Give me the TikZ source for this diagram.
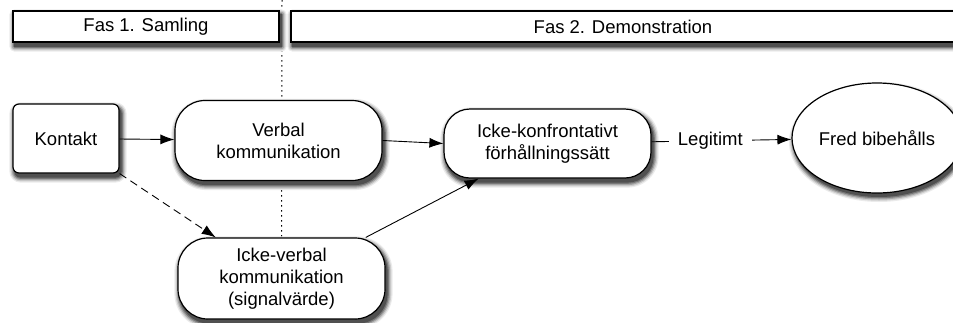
\documentclass[tikz,border=0pt]{standalone}
\usepackage{fontspec}
\setmainfont{Liberation Sans}
\usepackage{tikz}
\usetikzlibrary{positioning, arrows.meta, shapes.geometric, backgrounds, calc}
\tikzset{>={Latex[length=14pt,width=10pt]}}
\definecolor{skugga1}{RGB}{235,235,235}
\definecolor{skugga2}{RGB}{205,205,205}
\definecolor{skugga3}{RGB}{165,165,165}
\definecolor{skugga4}{RGB}{120,120,120}
\definecolor{skugga5}{RGB}{80,80,80}

% soft shadow under a box-shaped node: #1 node, #2 corner radius
\newcommand\skugga[2]{%
  \foreach \s/\g in {5/1,3.75/2,2.5/3,1.25/4,0/5}
    \fill[skugga\g, rounded corners=#2+\s]
      ($(#1.south west)+(2-\s,-4-\s)$) rectangle ($(#1.north east)+(2+\s,-4+\s)$);}

\begin{document}
\begin{tikzpicture}[x=1pt,y=1pt,
    every node/.style={font=\fontsize{18.5}{22}\selectfont, align=center, inner sep=0pt},
    phasebox/.style={draw, line width=1.2pt, fill=white, minimum height=31pt},
    startbox/.style={draw, line width=1.2pt, fill=white, rounded corners=6pt,
        minimum width=106pt, minimum height=69pt},
    roundbox/.style={draw, line width=1.2pt, fill=white, rounded corners=30pt},
    endoval/.style={draw, ellipse, line width=1.2pt, fill=white,
        minimum width=170pt, minimum height=110pt},
    link/.style={->, line width=0.9pt}
  ]
\useasboundingbox (0,0) rectangle (953,-322);

% phases
\node[phasebox, minimum width=266pt] (fas1) at (146,-26.5) {Fas 1. Samling};
\node[phasebox, minimum width=664pt] (fas2) at (623,-26.5) {Fas 2. Demonstration};

% nodes
\node[startbox] (kontakt) at (66,-138.5) {Kontakt};
\node[roundbox, minimum width=207pt, minimum height=80pt] (verbal) at (278.5,-140.5) {Verbal\\kommunikation};
\node[roundbox, minimum width=207pt, minimum height=81pt] (ickeverbal) at (281.5,-278.5) {Icke-verbal\\kommunikation\\(signalvärde)};
\node[roundbox, rounded corners=26pt, minimum width=207pt, minimum height=69pt] (konfront) at (547.5,-143.5) {Icke-konfrontativt\\förhållningssätt};
\node[endoval] (fred) at (877,-138) {Fred bibehålls};
\coordinate (delning) at (282,0);

% connectors
\draw[link] (kontakt) -- (verbal);
\draw[link] (verbal.east) -- (konfront.west);
\draw[link, dash pattern=on 8pt off 5pt] (kontakt.south east) -- (ickeverbal.148);
\draw[link] (ickeverbal.26) -- (konfront.207);
\draw[link] (konfront) -- node[pos=0.42, fill=white, inner xsep=9pt, inner ysep=3pt] (legitimt) {Legitimt} (fred);

\begin{scope}[on background layer]
  \draw[line width=1pt, dash pattern=on 1.5pt off 3.5pt] (delning) -- (ickeverbal.north);
  % shadows
  \skugga{fas1}{0}
  \skugga{fas2}{0}
  \skugga{kontakt}{6}
  \skugga{verbal}{30}
  \skugga{ickeverbal}{30}
  \skugga{konfront}{26}
  \foreach \s/\g in {5/1,3.75/2,2.5/3,1.25/4,0/5}
    \fill[skugga\g] ($(fred.center)+(2,-4)$) ellipse [x radius=85+\s, y radius=55+\s];
\end{scope}
\end{tikzpicture}
\end{document}
